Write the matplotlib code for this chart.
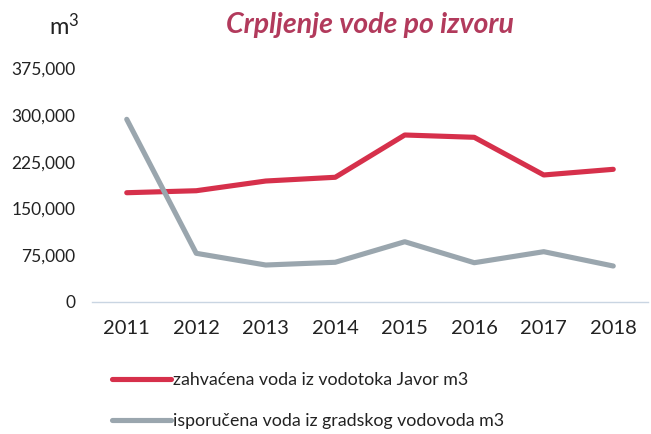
import matplotlib
matplotlib.use("Agg")
import matplotlib.pyplot as plt
from matplotlib.ticker import FuncFormatter

years = ["2011", "2012", "2013", "2014", "2015", "2016", "2017", "2018"]
javor = [175500, 178700, 194300, 200300, 268200, 264500, 204000, 213100]
gradski = [293400, 78200, 59400, 63800, 96800, 63100, 80800, 57800]
yticks = [0, 75000, 150000, 225000, 300000, 375000]
label_javor = "zahvaćena voda iz vodotoka Javor m3"
label_grad = "isporučena voda iz gradskog vodovoda m3"

plt.rcParams['font.family'] = ['Lato', 'DejaVu Sans']
plt.rcParams['mathtext.fontset'] = 'custom'
plt.rcParams['mathtext.rm'] = 'Lato'
plt.rcParams['mathtext.it'] = 'Lato:italic'

fig = plt.figure(figsize=(6.51, 4.34), dpi=100)
W, H = 651, 434
ax = fig.add_axes([92 / W, 1 - 302 / H, 556 / W, (302 - 68.5) / H])

x = list(range(len(years)))
red = "#d6304b"
grey = "#9aa6ae"
ax.plot(x, javor, color=red, lw=3.7, solid_capstyle='round', label=label_javor, zorder=3)
ax.plot(x, gradski, color=grey, lw=3.7, solid_capstyle='round', label=label_grad, zorder=3)

ax.set_xlim(-0.5, len(years) - 0.5)
ax.set_ylim(0, 375000)
ax.set_xticks(x)
ax.set_xticklabels(years, fontsize=14.5, color="#222222")
ax.set_yticks(yticks)
ax.yaxis.set_major_formatter(FuncFormatter(lambda v, p: f"{int(v):,}"))
ax.tick_params(axis='y', labelsize=12.5, length=0, pad=12, colors="#222222")
ax.tick_params(axis='x', length=0, pad=13)
for s in ['top', 'right', 'left']:
    ax.spines[s].set_visible(False)
ax.spines['bottom'].set_color("#c9d5e2")
ax.spines['bottom'].set_linewidth(1.0)

fig.text(64 / W, 1 - 26 / H, r"m$\mathregular{^3}$", fontsize=17, ha='center', va='center', color="#222222")
fig.text(370 / W, 1 - 25 / H, "Crpljenje vode po izvoru", fontsize=20.5, fontstyle='italic',
         fontweight='bold', color="#b23a5c", ha='center', va='center')

leg = fig.legend(loc='upper left', bbox_to_anchor=(112 / W, 1 - 372 / H), frameon=False,
                 fontsize=12.8, handlelength=3.3, handletextpad=0.15, labelspacing=1.4,
                 borderaxespad=0, borderpad=0)
for t in leg.get_texts():
    t.set_color("#222222")

fig.savefig("out.png", dpi=100)
